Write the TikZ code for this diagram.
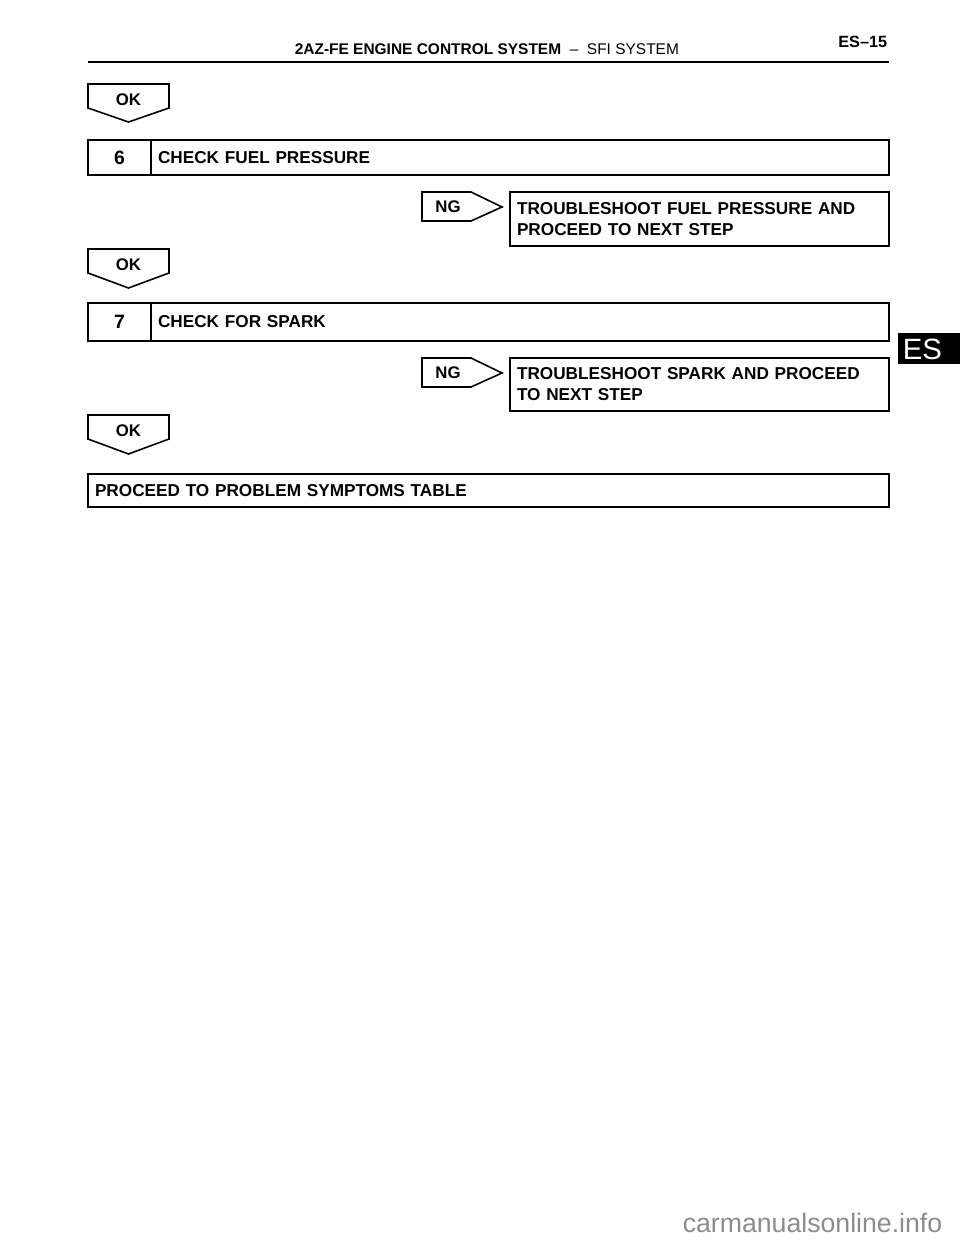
\documentclass[tikz,border=0pt]{standalone}
\usepackage{fontspec}
\setmainfont{Liberation Sans}
\usepackage{tikz}
\usetikzlibrary{positioning}
\definecolor{markgray}{HTML}{8C8C8C}

\begin{document}
\begin{tikzpicture}[x=0.75pt, y=-0.75pt, line width=1.2pt,
    numbox/.style={draw, rectangle, outer sep=0pt, minimum width=47.25pt, minimum height=26.25pt, font=\bfseries\fontsize{14.5}{14.5}\selectfont},
    stepbox/.style={draw, rectangle, outer sep=0pt, inner xsep=5.25pt, align=left, font=\bfseries\fontsize{12.9}{15.75}\selectfont},
    okshape/.style={draw, line join=miter},
    tag/.style={inner sep=0pt, font=\bfseries\fontsize{12.6}{12.6}\selectfont}]
    \useasboundingbox (0,0) rectangle (960,1242);
    % header
    \node[anchor=base west, inner sep=0pt, font=\fontsize{11.6}{11.6}\selectfont] (head) at (294,54) {\textbf{2AZ-FE ENGINE CONTROL SYSTEM}~~–~~SFI SYSTEM};
    \node[anchor=base east, inner sep=0pt, font=\bfseries\fontsize{12.2}{12.2}\selectfont] (page) at (888,47) {ES–15};
    \draw[line width=1.5pt] (88,62) -- (889,62);
    % OK
    \draw[okshape] (88,84) -- (169,84) -- (169,108) -- (128.5,122) -- (88,108) -- cycle;
    \node[tag] (ok1) at (128.5,100) {OK};
    % step 6
    \node[numbox, anchor=north west] (num6) at (88,140) {6};
    \node[stepbox, right=0pt of num6, minimum height=26.25pt, text width=543pt] (check6) {CHECK FUEL PRESSURE};
    \draw[okshape] (422,192) -- (471,192) -- (502,207) -- (471,221) -- (422,221) -- cycle;
    \node[tag] (ng6) at (448,207) {NG};
    \node[stepbox, anchor=north west, minimum height=40.5pt, text width=273.75pt] (fix6) at (510,192) {TROUBLESHOOT FUEL PRESSURE AND\\PROCEED TO NEXT STEP};
    % OK
    \draw[okshape] (88,249) -- (169,249) -- (169,273) -- (128.5,288) -- (88,273) -- cycle;
    \node[tag] (ok2) at (128.5,265) {OK};
    % step 7
    \node[numbox, anchor=north west, minimum height=28.5pt] (num7) at (88,303) {7};
    \node[stepbox, right=0pt of num7, minimum height=28.5pt, text width=543pt] (check7) {CHECK FOR SPARK};
    \draw[okshape] (422,358) -- (471,358) -- (502,373) -- (471,387) -- (422,387) -- cycle;
    \node[tag] (ng7) at (448,373) {NG};
    \node[stepbox, anchor=north west, minimum height=39.75pt, text width=273.75pt] (fix7) at (510,358) {TROUBLESHOOT SPARK AND PROCEED\\TO NEXT STEP};
    % OK
    \draw[okshape] (88,415) -- (169,415) -- (169,439) -- (128.5,454) -- (88,439) -- cycle;
    \node[tag] (ok3) at (128.5,431) {OK};
    % last step
    \node[stepbox, anchor=north west, minimum height=24.75pt, text width=590.25pt] (table) at (88,474) {PROCEED TO PROBLEM SYMPTOMS TABLE};
    % side tab
    \fill (898,333) rectangle (960,364);
    \node[anchor=west, inner sep=0pt, text=white, font=\fontsize{22}{22}\selectfont] (tab) at (902,349) {ES};
    % watermark
    \node[anchor=base west, inner sep=0pt, text=markgray, font=\fontsize{20}{20}\selectfont] (mark) at (682,1232) {carmanualsonline.info};
\end{tikzpicture}
\end{document}
